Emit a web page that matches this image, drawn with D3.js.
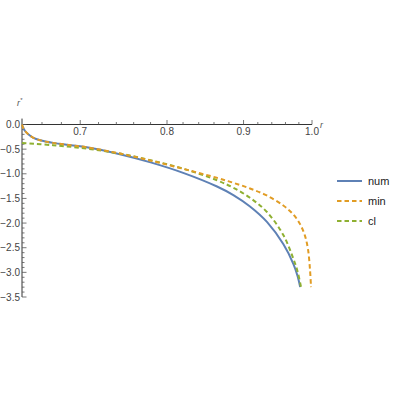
<!DOCTYPE html>
<html>
<head>
<meta charset="utf-8">
<script src="https://cdn.jsdelivr.net/npm/d3@7"></script>
<style>
  body { margin: 0; background: #fff; }
  text { font-family: "Liberation Sans", Arial, sans-serif; }
</style>
</head>
<body>
<div id="chart"></div>
<script>
// values (x = r, y = r*)
var numR = [0.640, 0.641, 0.643, 0.6459, 0.6509, 0.6582, 0.6713, 0.6899, 0.707, 0.744, 0.780, 0.821, 0.864, 0.886, 0.909, 0.933, 0.957, 0.972, 0.978, 0.982];
var numY = [0, -0.061, -0.132, -0.193, -0.264, -0.320, -0.373, -0.420, -0.462, -0.604, -0.769, -0.986, -1.258, -1.432, -1.663, -1.976, -2.430, -2.836, -3.073, -3.30];
var minR = [0.640, 0.641, 0.643, 0.6459, 0.6509, 0.6582, 0.6713, 0.6899, 0.707, 0.7442, 0.7793, 0.8203, 0.8636, 0.886, 0.909, 0.9327, 0.9568, 0.9717, 0.9816, 0.9893, 0.9939, 0.9969, 0.9985];
var minY = [0, -0.061, -0.132, -0.193, -0.264, -0.320, -0.373, -0.420, -0.462, -0.590, -0.730, -0.899, -1.081, -1.183, -1.298, -1.440, -1.643, -1.826, -2.016, -2.260, -2.535, -2.941, -3.30];
var clR  = [0.640, 0.6713, 0.707, 0.744, 0.780, 0.821, 0.864, 0.886, 0.909, 0.933, 0.957, 0.972, 0.978, 0.9833];
var clY  = [-0.375, -0.420, -0.489, -0.590, -0.724, -0.901, -1.132, -1.284, -1.487, -1.775, -2.247, -2.734, -2.982, -3.30];
var seriesNames = ["num", "min", "cl"];
var xTicks = [0.7, 0.8, 0.9, 1.0];
var yTicks = [0, -0.5, -1, -1.5, -2, -2.5, -3, -3.5];

var colors = ["#5E81B5", "#E19C24", "#8FB032"];
var dashes = [null, "4.5,3", "4.5,3"];

var width = 400, height = 400;

var svg = d3.select("#chart").append("svg")
    .attr("width", width)
    .attr("height", height);

var x = d3.scaleLog().domain([0.64, 1.0]).range([22, 312]);
var y = d3.scaleLinear().domain([0, -3.5]).range([124.5, 297]);

var fmt = function(d){ return (d < 0 ? "\u2212" : "") + Math.abs(d).toFixed(1); };

// x axis
var gx = svg.append("g");
gx.append("line")
    .attr("x1", x(0.64)).attr("x2", x(1.0))
    .attr("y1", y(0)).attr("y2", y(0))
    .attr("stroke", "#333").attr("stroke-width", 1);
var xMinor = d3.range(0.66, 1.0, 0.02).filter(function(d){ return Math.abs(d*10 - Math.round(d*10)) > 0.01; });
gx.selectAll(".xminor").data(xMinor).enter().append("line")
    .attr("x1", function(d){ return x(d); }).attr("x2", function(d){ return x(d); })
    .attr("y1", y(0)).attr("y2", y(0) - 2.5)
    .attr("stroke", "#555").attr("stroke-width", 0.8);
gx.selectAll(".xmajor").data(xTicks).enter().append("line")
    .attr("x1", function(d){ return x(d); }).attr("x2", function(d){ return x(d); })
    .attr("y1", y(0)).attr("y2", y(0) - 4.5)
    .attr("stroke", "#555").attr("stroke-width", 0.8);
gx.selectAll(".xlab").data(xTicks).enter().append("text")
    .attr("x", function(d){ return x(d); })
    .attr("y", y(0) + 10)
    .attr("text-anchor", "middle")
    .attr("font-size", "10px")
    .attr("fill", "#444")
    .text(function(d){ return d.toFixed(1); });
svg.append("text")
    .attr("x", 320).attr("y", y(0) + 3)
    .attr("font-size", "9px").attr("font-style", "italic").attr("fill", "#555")
    .text("r");

// y axis
var gy = svg.append("g");
gy.append("line")
    .attr("x1", x(0.64)).attr("x2", x(0.64))
    .attr("y1", y(0.12)).attr("y2", y(-3.5))
    .attr("stroke", "#333").attr("stroke-width", 1);
var yMinor = d3.range(1, 36).map(function(i){ return -i / 10; }).filter(function(d, i){ return (i + 1) % 5 !== 0; });
gy.selectAll(".yminor").data(yMinor).enter().append("line")
    .attr("x1", x(0.64)).attr("x2", x(0.64) + 2.5)
    .attr("y1", function(d){ return y(d); }).attr("y2", function(d){ return y(d); })
    .attr("stroke", "#555").attr("stroke-width", 0.8);
gy.selectAll(".ymajor").data(yTicks).enter().append("line")
    .attr("x1", x(0.64)).attr("x2", x(0.64) + 4.5)
    .attr("y1", function(d){ return y(d); }).attr("y2", function(d){ return y(d); })
    .attr("stroke", "#555").attr("stroke-width", 0.8);
gy.selectAll(".ylab").data(yTicks).enter().append("text")
    .attr("x", x(0.64) - 2)
    .attr("y", function(d){ return y(d) + 3.5; })
    .attr("text-anchor", "end")
    .attr("font-size", "10px")
    .attr("fill", "#444")
    .text(fmt);
var yl = svg.append("text")
    .attr("x", 17).attr("y", 106)
    .attr("font-size", "9px").attr("font-style", "italic").attr("fill", "#555");
yl.append("tspan").text("r");
yl.append("tspan").attr("dy", -4).attr("font-size", "6px").text("*");

// curves
var series = [
    { name: seriesNames[0], pts: d3.zip(numR, numY) },
    { name: seriesNames[1], pts: d3.zip(minR, minY) },
    { name: seriesNames[2], pts: d3.zip(clR, clY) }
];

var line = d3.line()
    .x(function(d){ return x(d[0]); })
    .y(function(d){ return y(d[1]); })
    .curve(d3.curveCatmullRom.alpha(0.5));

// draw cl and min on top of num, like the reference
[0, 2, 1].forEach(function(i){
    svg.append("path")
        .datum(series[i].pts)
        .attr("fill", "none")
        .attr("stroke", colors[i])
        .attr("stroke-width", 2)
        .attr("stroke-dasharray", dashes[i])
        .attr("d", line);
});

// legend
var lg = svg.append("g").attr("transform", "translate(337,181)");
seriesNames.forEach(function(n, i){
    lg.append("line")
        .attr("x1", 0).attr("x2", 25)
        .attr("y1", i * 20).attr("y2", i * 20)
        .attr("stroke", colors[i]).attr("stroke-width", 2)
        .attr("stroke-dasharray", dashes[i]);
    lg.append("text")
        .attr("x", 31).attr("y", i * 20 + 4)
        .attr("font-size", "11px").attr("fill", "#222")
        .text(n);
});
</script>
</body>
</html>
